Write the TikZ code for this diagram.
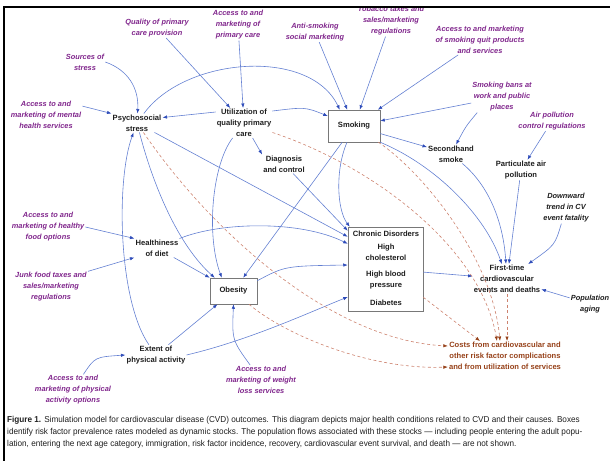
\documentclass[tikz,border=0pt]{standalone}
\usepackage{fontspec}
\setmainfont{Liberation Sans}
\newfontfamily\capfont[FakeStretch=0.95]{Liberation Sans}
\usetikzlibrary{arrows.meta}
\definecolor{lblpurple}{RGB}{128,38,140}
\definecolor{flowblue}{RGB}{100,128,210}
\definecolor{tipblue}{RGB}{45,75,185}
\definecolor{costline}{RGB}{205,130,110}
\definecolor{costbrown}{RGB}{150,65,25}
\definecolor{boxgray}{RGB}{120,120,120}
\definecolor{inkgray}{RGB}{30,30,30}

\begin{document}
\begin{tikzpicture}[x=1pt,y=-1pt,
    var/.style={align=center,inner sep=1pt,text=inkgray,font=\bfseries\fontsize{7.6}{11}\selectfont},
    lever/.style={align=center,inner sep=1pt,text=lblpurple,font=\bfseries\itshape\fontsize{7.4}{11}\selectfont},
    ext/.style={lever,text=inkgray},
    stock/.style={var,draw=boxgray,fill=white,line width=0.5pt},
    flow/.style={draw=flowblue,line width=0.6pt,-{Latex[length=4.5pt,width=3.4pt,color=tipblue]}},
    cost/.style={draw=costline,line width=0.6pt,dash pattern=on 3pt off 2.5pt,-{Latex[length=4.5pt,width=3.4pt,color=costbrown]}}]
  \useasboundingbox (0,0) rectangle (610,461);

  % policy levers
  \node[lever] (qual) at (157,28) {Quality of primary\\care provision};
  \node[lever] (accpc) at (238,25) {Access to and\\marketing of\\primary care};
  \node[lever] (antismoke) at (315,32) {Anti-smoking\\social marketing};
  \node[lever] (tobacco) at (391,21) {Tobacco taxes and\\sales/marketing\\regulations};
  \node[lever] (quit) at (480,40) {Access to and marketing\\of smoking quit products\\and services};
  \node[lever] (sources) at (85,62) {Sources of\\stress};
  \node[lever] (mental) at (46,115) {Access to and\\marketing of mental\\health services};
  \node[lever] (bans) at (502,97) {Smoking bans at\\work and public\\places};
  \node[lever] (air) at (552,121) {Air pollution\\control regulations};
  \node[lever] (healthy) at (48,227) {Access to and\\marketing of healthy\\food options};
  \node[lever] (junk) at (51,287) {Junk food taxes and\\sales/marketing\\regulations};
  \node[lever] (physacc) at (73,390) {Access to and\\marketing of physical\\activity options};
  \node[lever] (weight) at (261,380) {Access to and\\marketing of weight\\loss services};
  \node[ext] (trend) at (566,208) {Downward\\trend in CV\\event fatality};
  \node[ext] (aging) at (590,304) {Population\\aging};

  % variables and stocks
  \node[var] (stress) at (137,123) {Psychosocial\\stress};
  \node[var] (util) at (244,123) {Utilization of\\quality primary\\care};
  \node[stock,minimum width=52pt,minimum height=32pt] (smoking) at (354,126) {Smoking};
  \node[var] (second) at (451,154) {Secondhand\\smoke};
  \node[var] (partic) at (521,170) {Particulate air\\pollution};
  \node[var] (diag) at (284,164) {Diagnosis\\and control};
  \node[stock,minimum width=75pt,minimum height=84pt] (chronic) at (385.5,269) {};
  \node[var] (chrtitle) at (386,234) {Chronic Disorders};
  \node[var] (chol) at (386,252.5) {High\\cholesterol};
  \node[var] (bp) at (386,280) {High blood\\pressure};
  \node[var] (diab) at (386,303) {Diabetes};
  \node[var] (first) at (507,279) {First-time\\cardiovascular\\events and deaths};
  \node[var] (diet) at (157,248) {Healthiness\\of diet};
  \node[stock,minimum width=47pt,minimum height=26pt] (obesity) at (233.5,291) {Obesity};
  \node[var] (extent) at (156,355) {Extent of\\physical activity};
  \node[var,text=costbrown] (costs) at (505,356) {Costs from cardiovascular and\\other risk factor complications\\and from utilization of services};

  \begin{scope}[flow]
    \draw (qual) to (util);
    \draw (accpc) to (util);
    \draw (antismoke) to (smoking);
    \draw (tobacco) to (smoking);
    \draw (quit) to (smoking);
    \draw (bans) to (smoking);
    \draw ([xshift=6pt]bans.south west) .. controls (466,126) .. (second);
    \draw (air) to (partic);
    \draw (sources.east) .. controls (128,70) and (139,88) .. (stress);
    \draw ([yshift=-6pt]mental.north east) to (stress.north west);
    \draw ([yshift=-4pt]util.north west) to ([yshift=-4pt]stress.north east);
    \draw (stress) .. controls (185,57) and (310,47) .. ([xshift=12pt]smoking.north west);
    \draw ([yshift=-3pt]util.north east) .. controls (305,107) .. ([yshift=10pt]smoking.west);
    \draw (util) to (diag.north west);
    \draw (smoking) to (second);
    \draw (smoking.south east) .. controls (435,165) and (485,215) .. (first);
    \draw (second) .. controls (488,185) and (503,220) .. (first);
    \draw (partic) to (first);
    \draw (trend) .. controls (555,245) .. (first);
    \draw (aging) to (first);
    \draw (chronic) to (first);
    \draw (smoking) .. controls (335,170) and (337,210) .. ([xshift=2pt]chronic.north west);
    \draw (smoking) to (obesity);
    \draw (diag) to ([yshift=-4pt]chronic.north west);
    \draw (stress) to ([yshift=-10pt]chronic.north west);
    \draw (stress) .. controls (153,185) and (178,245) .. ([xshift=5pt]obesity.north west);
    \draw (util) .. controls (212,165) and (206,235) .. ([xshift=12pt]obesity.north west);
    \draw (diet) to (obesity.north west);
    \draw (diet.north east) .. controls (220,222) and (300,220) .. ([yshift=-17pt]chronic.north west);
    \draw (healthy.east) to (diet.north west);
    \draw (junk.north east) to (diet.south west);
    \draw ([yshift=-3pt]obesity.north east) .. controls (285,266) .. ([yshift=4pt]chronic.west);
    \draw (extent) to (obesity);
    \draw (extent.east) .. controls (250,340) and (310,312) .. ([yshift=-28pt]chronic.west);
    \draw (weight) .. controls (232,340) .. (obesity.south);
    \draw (physacc) .. controls (95,357) .. (extent.west);
    \draw (extent) .. controls (118,300) and (116,180) .. (stress);
  \end{scope}

  \begin{scope}[cost]
    \draw (stress) .. controls (210,230) and (330,340) .. ([yshift=10pt]costs.west);
    \draw (obesity) .. controls (285,335) and (370,370) .. ([yshift=-11pt]costs.west);
    \draw (util) .. controls (370,165) and (480,245) .. ([xshift=-8pt]costs.north);
    \draw (smoking) .. controls (420,170) and (492,255) .. ([xshift=-5pt]costs.north);
    \draw ([yshift=14pt]chronic.south east) to ([xshift=-25pt]costs.north);
    \draw (first) to ([xshift=2pt]costs.north);
  \end{scope}

  \node[anchor=north west,align=left,inner sep=0pt,text=inkgray,
        font=\capfont\fontsize{8.6}{12}\selectfont] (caption) at (7,416.5)
    {\textbf{Figure 1.} Simulation model for cardiovascular disease (CVD) outcomes. This diagram depicts major health conditions related to CVD and their causes. Boxes\\
     identify risk factor prevalence rates modeled as dynamic stocks. The population flows associated with these stocks — including people entering the adult popu-\\
     lation, entering the next age category, immigration, risk factor incidence, recovery, cardiovascular event survival, and death — are not shown.};

  % frame
  \fill[white] (0,0) rectangle (610,6);
  \draw[line width=2pt] (610,7) -- (3.5,7) -- (3.5,461);
\end{tikzpicture}
\end{document}
